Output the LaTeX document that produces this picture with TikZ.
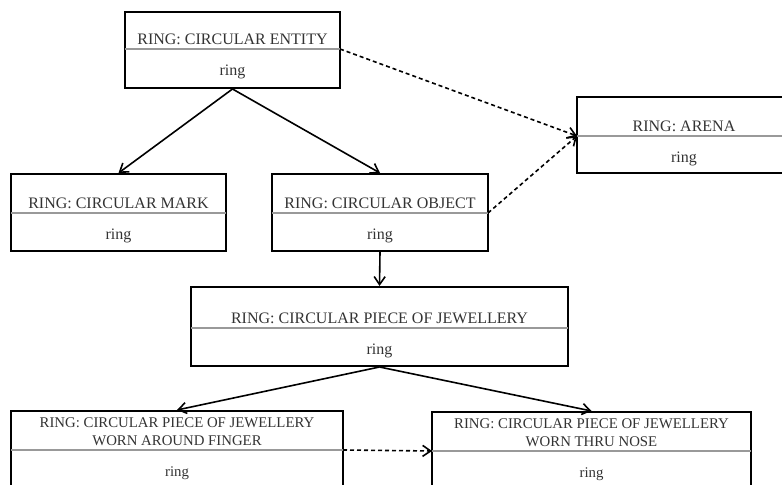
\documentclass[tikz,border=0pt]{standalone}
\usepackage{fontspec}
\setmainfont{Liberation Serif}
\usetikzlibrary{arrows.meta, fit, calc}

\tikzset{
    ringframe/.style = {draw = black, line width = 1pt, inner sep = 0pt},
    divline/.style = {draw = black!40, line width = 0.7pt},
    titletext/.style = {text = black!80, inner sep = 0pt,
        font = \fontsize{8}{9.6}\selectfont},
    smalltext/.style = {text = black!80, inner sep = 0pt, align = center,
        font = \fontsize{7.4}{9}\selectfont},
    isa/.style = {-{Straight Barb[length=4pt, width=5.5pt]}, line width = 0.8pt},
    alias/.style = {isa, dash pattern = on 2pt off 1.5pt}
}

% box: [text style]{name}{left}{top}{right}{bottom}{divider}{title}
\newcommand\ringbox[8][titletext]{%
    \node[ringframe, fit = {(#3,#4) (#5,#6)}] (#2) {};
    \coordinate (#2-l) at (#3,#7);
    \coordinate (#2-r) at (#5,#7);
    \draw[divline] (#2-l) -- (#2-r);
    \node[#1, anchor = base] (#2-title) at ($(#2-l)!0.5!(#2-r) + (0,-4.5)$) {#8};
    \node[#1, anchor = base] (#2-kind) at ($(#2-l)!0.5!(#2-r) + (0,27)$) {ring};
}

\begin{document}
\begin{tikzpicture}[x = 0.5pt, y = -0.5pt]
    \clip (0,0) rectangle (782,485);

    \ringbox{entity}{125}{12}{340}{88}{49}{RING: CIRCULAR ENTITY}
    \ringbox{arena}{577}{97}{791}{173}{136}{RING: ARENA}
    \ringbox{mark}{11}{174}{226}{251}{213}{RING: CIRCULAR MARK}
    \ringbox{object}{272}{174}{488}{251}{213}{RING: CIRCULAR OBJECT}
    \ringbox{jewel}{191}{287}{568}{366}{328}{RING: CIRCULAR PIECE OF JEWELLERY}
    \ringbox[smalltext]{finger}{11}{411}{343}{500}{450}{RING: CIRCULAR PIECE OF JEWELLERY\\WORN AROUND FINGER}
    \ringbox[smalltext]{nose}{432}{412}{751}{500}{451}{RING: CIRCULAR PIECE OF JEWELLERY\\WORN THRU NOSE}

    \draw[isa] (entity.south) -- (mark.north);
    \draw[isa] (entity.south) -- (object.north);
    \draw[alias] (entity-r) -- (arena-l);
    \draw[alias] (object-r) -- (arena-l);
    \draw[isa] (object.south) -- (jewel.north);
    \draw[isa] (jewel.south) -- (finger.north);
    \draw[isa] (jewel.south) -- (nose.north);
    \draw[alias] (finger-r) -- (nose-l);

\end{tikzpicture}
\end{document}
